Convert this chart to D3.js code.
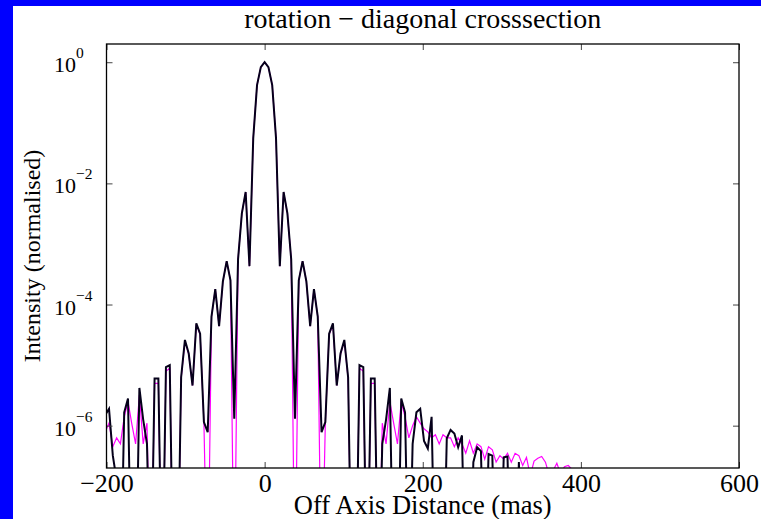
<!DOCTYPE html>
<html><head><meta charset="utf-8">
<script src="https://cdn.jsdelivr.net/npm/d3@7"></script>
<style>html,body{margin:0;padding:0;background:#0000ff;} svg{display:block}</style>
</head><body><svg id="c" width="761" height="519"></svg>
<script>
// ---- data ----
const titleText = "rotation \u2212 diagonal crosssection";
const xLabel = "Off Axis Distance (mas)";
const yLabel = "Intensity (normalised)";
const xTicks = [-200, 0, 200, 400, 600];
const xTickLabels = ["\u2212200", "0", "200", "400", "600"];
const yTicks = [1e0, 1e-2, 1e-4, 1e-6];
const yTickExponents = ["0", "\u22122", "\u22124", "\u22126"];

// sample positions along the cross-section (mas)
const offsets = [
 -201.6,-196.8,-192,-187.2,-182.4,-177.6,-172.8,-168,-163.2,-158.4,
 -153.6,-148.8,-144,-139.2,-134.4,-129.6,-124.8,-120,-115.2,-110.4,
 -105.6,-100.8,-96,-91.2,-86.4,-81.6,-76.8,-72,-67.2,-62.4,
 -57.6,-52.8,-48,-43.2,-38.4,-33.6,-28.8,-24,-19.2,-14.4,
 -9.6,-4.8,0,4.8,9.6,14.4,19.2,24,28.8,33.6,
 38.4,43.2,48,52.8,57.6,62.4,67.2,72,76.8,81.6,
 86.4,91.2,96,100.8,105.6,110.4,115.2,120,124.8,129.6,
 134.4,139.2,144,148.8,153.6,158.4,163.2,168,172.8,177.6,
 182.4,187.2,192,196.8,201.6,206.4,211.2,216,220.8,225.6,
 230.4,235.2,240,244.8,249.6,254.4,259.2,264,268.8,273.6,
 278.4,283.2,288,292.8,297.6,302.4,307.2,312,316.8,321.6,
 326.4,331.2,336,340.8,345.6,350.4,355.2,360,364.8,369.6,
 374.4,379.2,384,388.8,393.6,398.4,403.2
];

// magenta series
const seriesMagenta = [
 7.9e-7,1.1e-6,4.5e-7,6.3e-7,5.0e-7,1.4e-6,2.5e-6,1.07e-6,5.0e-7,3.2e-6,
 5.0e-7,1.1e-6,1e-9,5.0e-6,5.0e-6,1e-9,7.9e-6,8.9e-6,1e-9,1e-9,
 6.0e-6,2.5e-5,1.5e-5,4.6e-6,4.7e-5,3.2e-5,1.15e-6,1e-9,6.3e-5,1.8e-4,
 4.4e-5,2.4e-4,5.2e-4,2.5e-4,1e-9,5.6e-4,3.2e-3,7.2e-3,4.3e-4,0.056,
 0.42,0.83,1,0.83,0.42,0.056,4.3e-4,7.2e-3,3.2e-3,5.6e-4,
 1e-9,2.5e-4,5.2e-4,2.4e-4,4.4e-5,1.8e-4,6.3e-5,1e-9,1.15e-6,3.2e-5,
 4.7e-5,4.6e-6,1.5e-5,2.5e-5,6.0e-6,1e-9,1e-9,8.9e-6,7.9e-6,1e-9,
 5.0e-6,5.0e-6,1e-9,1.1e-6,5.0e-7,2.5e-6,1.1e-6,5.0e-7,2.5e-6,1.4e-6,
 6.3e-7,1.0e-6,1.4e-6,1.1e-6,8.9e-7,7.9e-7,6.3e-7,7.1e-7,5.0e-7,7.1e-7,
 6.3e-7,6.3e-7,4.5e-7,6.3e-7,5.0e-7,3.5e-7,5.6e-7,3.5e-7,5.0e-7,4.5e-7,
 2.8e-7,4.5e-7,4.0e-7,2.5e-7,3.2e-7,2.8e-7,3.5e-7,2.5e-7,3.5e-7,3.2e-7,
 2.2e-7,3.0e-7,1.5e-7,2.6e-7,2.9e-7,3.1e-7,2.5e-7,1.5e-7,1.8e-7,2.4e-7,
 1.6e-7,2.1e-7,2.2e-7,1.9e-7,5e-8,1e-8,1e-9
];

// black series
const seriesBlack = [
 1.5e-6,1.9e-6,3.2e-7,1.26e-7,1e-9,1.66e-6,2.8e-6,1e-9,1e-9,4.2e-6,
 1.26e-6,5e-7,1e-9,6.0e-6,6.0e-6,1e-9,9.3e-6,1.0e-5,1e-9,1e-9,
 6.3e-6,2.6e-5,1.55e-5,4.6e-6,4.9e-5,3.3e-5,1.15e-6,7.8e-7,6.3e-5,1.8e-4,
 4.4e-5,2.4e-4,5.2e-4,2.5e-4,1.3e-6,5.6e-4,3.2e-3,7.2e-3,4.3e-4,0.056,
 0.42,0.83,1,0.83,0.42,0.056,4.3e-4,7.2e-3,3.2e-3,5.6e-4,
 1.3e-6,2.5e-4,5.2e-4,2.4e-4,4.4e-5,1.8e-4,6.3e-5,7.8e-7,1.15e-6,3.3e-5,
 4.9e-5,4.6e-6,1.55e-5,2.6e-5,6.3e-6,1e-9,1e-9,1.0e-5,9.3e-6,1e-9,
 6.0e-6,6.0e-6,1e-9,5e-7,1.26e-6,4.2e-6,1e-9,1e-9,2.8e-6,1.66e-6,
 1e-9,5e-7,1.66e-6,1.9e-6,5.6e-7,4.2e-7,1.4e-6,1e-9,1e-9,1e-9,
 6.2e-7,8.5e-7,7.4e-7,4.4e-7,6.9e-7,1e-9,1e-9,2.5e-7,4.4e-7,3.8e-7,
 1e-9,3.4e-7,3.2e-7,1e-9,1e-9,3.0e-7,3.1e-7,1e-9,1e-9,2.5e-7,
 1e-9,1e-9,1e-9,1e-9,1e-9,1e-9,1e-9,1e-9,1e-9,1e-9,
 1e-9,1e-9,1e-9,1e-9,1e-9,1e-9,1e-9
];

// ---- drawing ----
const W = 761, H = 519;
const plot = {left: 106.5, right: 739, top: 44, bottom: 468};
const serif = "'Liberation Serif','Times New Roman',Times,serif";

const svg = d3.select("#c");
svg.append("rect").attr("x", 13).attr("y", 6).attr("width", W - 13).attr("height", H - 6).attr("fill", "#fff");

const x = d3.scaleLinear().domain([-200, 600]).range([plot.left, plot.right]);
const y = d3.scaleLog().domain([2e-7, 2]).range([plot.bottom, plot.top]);

svg.append("clipPath").attr("id", "clip").append("rect")
  .attr("x", plot.left).attr("y", plot.top)
  .attr("width", plot.right - plot.left).attr("height", plot.bottom - plot.top);

const g = svg.append("g").attr("clip-path", "url(#clip)");
const line = d3.line().x(d => x(d[0])).y(d => y(d[1])).defined(d => d[1] != null && isFinite(d[0]));

g.append("path").datum(offsets.map((o, i) => [o, seriesMagenta[i]]))
  .attr("d", line).attr("fill", "none").attr("stroke", "#ff00ff").attr("stroke-width", 1.2)
  .attr("stroke-linejoin", "miter");
g.append("path").datum(offsets.map((o, i) => [o, seriesBlack[i]]))
  .attr("d", line).attr("fill", "none").attr("stroke", "#05001a").attr("stroke-width", 2)
  .attr("stroke-linejoin", "miter");

// axes with inward ticks
const tickStyle = sel => { sel.select(".domain").remove(); sel.selectAll(".tick line").attr("stroke", "#444").attr("stroke-width", 1); };
svg.append("g").attr("transform", `translate(0,${plot.bottom})`)
  .call(d3.axisBottom(x).tickValues(xTicks).tickSize(-6).tickFormat((d, i) => xTickLabels[i]).tickPadding(12))
  .call(tickStyle)
  .call(s => s.selectAll("text").attr("font-family", serif).attr("font-size", 26).attr("fill", "#000")
      .attr("dy", null).attr("y", 24));
svg.append("g").attr("transform", `translate(0,${plot.top})`)
  .call(d3.axisTop(x).tickValues(xTicks).tickSize(-6).tickFormat(""))
  .call(tickStyle);
svg.append("g").attr("transform", `translate(${plot.left},0)`)
  .call(d3.axisLeft(y).tickValues(yTicks).tickSize(-6).tickFormat(""))
  .call(tickStyle);
svg.append("g").attr("transform", `translate(${plot.right},0)`)
  .call(d3.axisRight(y).tickValues(yTicks).tickSize(-6).tickFormat(""))
  .call(tickStyle);

// y tick labels 10^n
yTicks.forEach((t, i) => {
  const tx = svg.append("text").attr("x", 54).attr("y", y(t) + 10)
    .attr("font-family", serif).attr("font-size", 22).attr("fill", "#000");
  tx.append("tspan").text("10");
  tx.append("tspan").attr("dy", -14).attr("font-size", 15.5).text(yTickExponents[i]);
});

// frame
svg.append("rect").attr("x", plot.left).attr("y", plot.top)
  .attr("width", plot.right - plot.left).attr("height", plot.bottom - plot.top)
  .attr("fill", "none").attr("stroke", "#000").attr("stroke-width", 1.3);

// title & labels
svg.append("text").attr("x", (plot.left + plot.right) / 2).attr("y", 28)
  .attr("text-anchor", "middle").attr("font-family", serif).attr("font-size", 28).attr("fill", "#000").text(titleText);
svg.append("text").attr("x", (plot.left + plot.right) / 2).attr("y", 514)
  .attr("text-anchor", "middle").attr("font-family", serif).attr("font-size", 26.5).attr("fill", "#000").text(xLabel);
svg.append("text").attr("transform", `translate(40,${(plot.top + plot.bottom) / 2}) rotate(-90)`)
  .attr("text-anchor", "middle").attr("font-family", serif).attr("font-size", 24).attr("fill", "#000").text(yLabel);
</script>
</body></html>
